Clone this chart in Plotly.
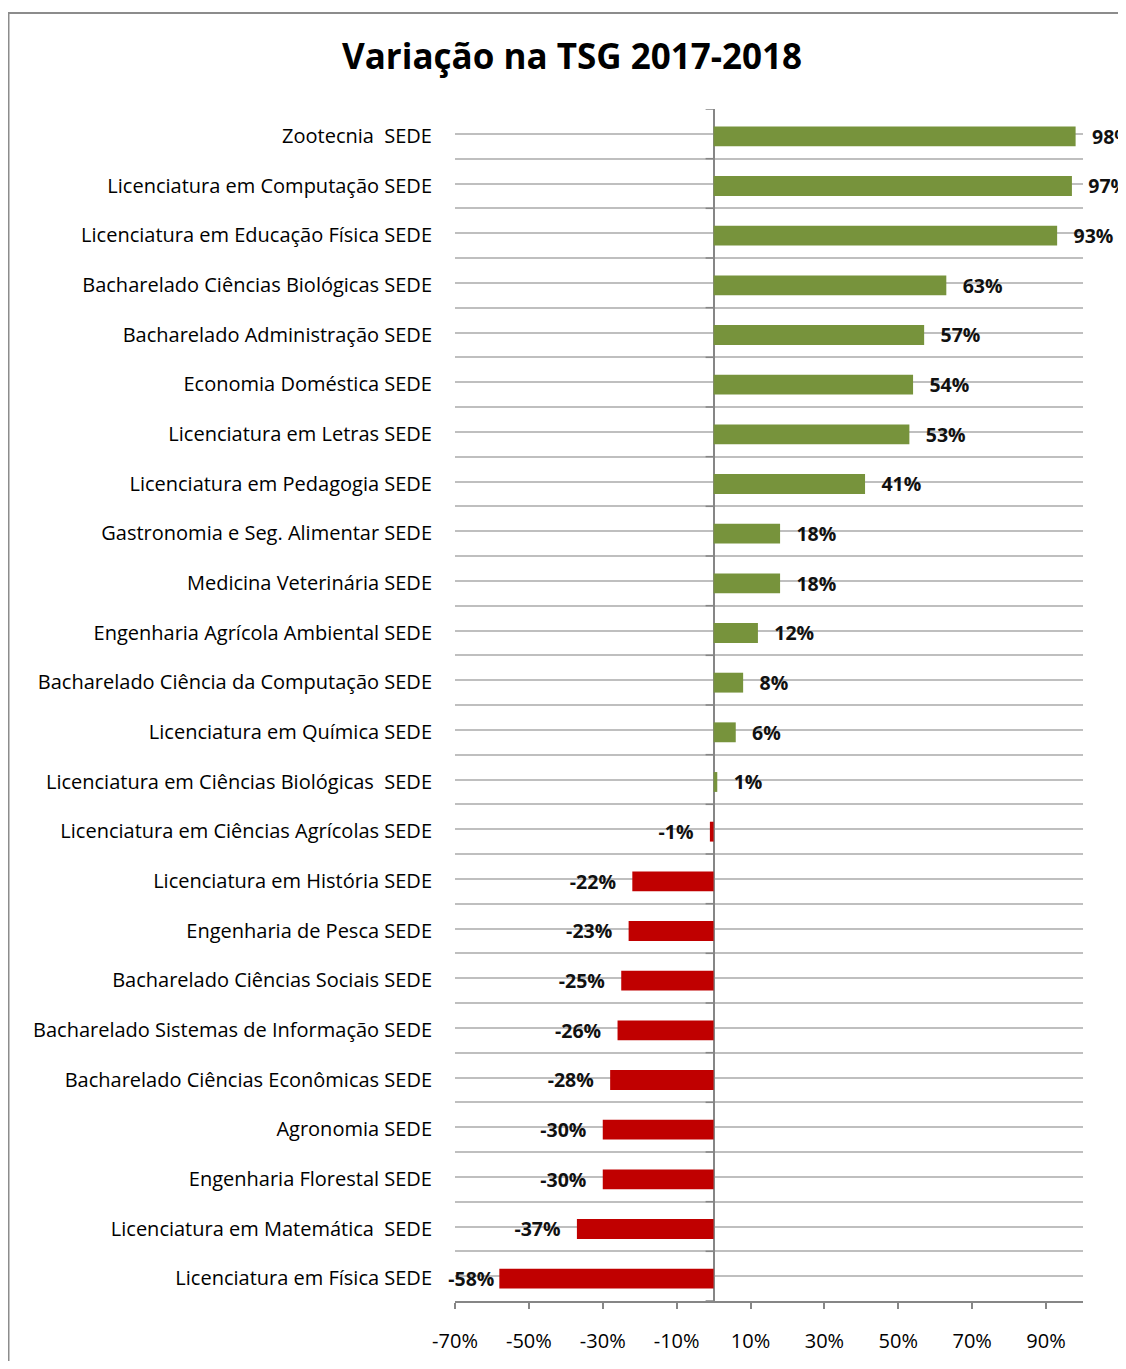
import plotly.graph_objects as go

categories = [
    "Zootecnia  SEDE",
    "Licenciatura em Computação SEDE",
    "Licenciatura em Educação Física SEDE",
    "Bacharelado Ciências Biológicas SEDE",
    "Bacharelado Administração SEDE",
    "Economia Doméstica SEDE",
    "Licenciatura em Letras SEDE",
    "Licenciatura em Pedagogia SEDE",
    "Gastronomia e Seg. Alimentar SEDE",
    "Medicina Veterinária SEDE",
    "Engenharia Agrícola Ambiental SEDE",
    "Bacharelado Ciência da Computação SEDE",
    "Licenciatura em Química SEDE",
    "Licenciatura em Ciências Biológicas  SEDE",
    "Licenciatura em Ciências Agrícolas SEDE",
    "Licenciatura em História SEDE",
    "Engenharia de Pesca SEDE",
    "Bacharelado Ciências Sociais SEDE",
    "Bacharelado Sistemas de Informação SEDE",
    "Bacharelado Ciências Econômicas SEDE",
    "Agronomia SEDE",
    "Engenharia Florestal SEDE",
    "Licenciatura em Matemática  SEDE",
    "Licenciatura em Física SEDE",
]
variation_pct = [98, 97, 93, 63, 57, 54, 53, 41, 18, 18, 12, 8, 6, 1,
                 -1, -22, -23, -25, -26, -28, -30, -30, -37, -58]
x_tick_values = [-70, -50, -30, -10, 10, 30, 50, 70, 90]
x_tick_labels = [f"{v}%" for v in x_tick_values]

GREEN = "#77933C"
RED = "#C00000"
GRID = "#BFBFBF"
AXIS = "#868686"
FONT = "Open Sans"

# page offset of the plotly div (default body margin)
OFF = 8
W, H = 1126 - OFF, 1369 - 2 * OFF
L, R, T, B = 455 - OFF, 1083 - OFF, 109 - OFF, 1301 - OFF


def px_x(p):
    # p: page pixel
    return (p - OFF - L) / (R - L)


def px_y(p):
    return (B - (p - OFF)) / (B - T)


idx = list(range(len(categories)))
colors = [GREEN if v >= 0 else RED for v in variation_pct]
NB = "\u00a0"
GAP = NB * 2 + "\u2009"
texts = []
for v in variation_pct:
    if v >= 0:
        texts.append(GAP + f"{v}%")
    else:
        # labels reaching the plot's left edge sit closer to their bar
        texts.append(f"{v}%" + ("\u200a" if v < -50 else GAP))

fig = go.Figure()
fig.add_trace(go.Bar(
    x=variation_pct,
    y=idx,
    orientation="h",
    marker=dict(color=colors, line=dict(width=0)),
    width=0.4,
    offset=-0.15,
    text=texts,
    textposition="outside",
    textfont=dict(family=FONT, size=19.5, color="#111111", weight="bold"),
    cliponaxis=False,
    constraintext="none",
    hoverinfo="skip",
))

shapes = []
# small tick marks on the zero axis at category boundaries
for b in range(len(categories) + 1):
    shapes.append(dict(
        type="line", xref="x", yref="y", xsizemode="pixel", xanchor=0,
        x0=-8, x1=0, y0=b - 0.5, y1=b - 0.5,
        line=dict(color=AXIS, width=1.5), layer="above",
    ))
# outer chart frame
shapes.append(dict(
    type="rect", xref="paper", yref="paper",
    x0=px_x(8.5), x1=px_x(1160), y0=px_y(1400), y1=px_y(13),
    line=dict(color="#8C8C8C", width=2), fillcolor="rgba(0,0,0,0)", layer="below",
))

fig.update_layout(
    width=W, height=H,
    margin=dict(l=L, r=W - R, t=T, b=H - B, autoexpand=False),
    paper_bgcolor="white",
    plot_bgcolor="white",
    showlegend=False,
    title=dict(
        text="<b>Variação na TSG 2017-2018</b>",
        x=(572 - OFF) / W, xref="container", xanchor="center",
        y=1 - (57 - OFF) / H, yref="container", yanchor="middle",
        font=dict(family=FONT, size=35, color="#000000"),
    ),
    shapes=shapes,
    font=dict(family=FONT, color="#000000"),
)

fig.update_xaxes(
    range=[-70, 100],
    tickvals=x_tick_values,
    ticktext=x_tick_labels,
    showgrid=False,
    zeroline=True, zerolinecolor=AXIS, zerolinewidth=1.5,
    showline=True, linecolor=AXIS, linewidth=1.5,
    ticks="outside", ticklen=6, tickcolor=AXIS, tickwidth=1.5,
    ticklabelstandoff=15,
    automargin=False,
    tickfont=dict(family=FONT, size=20, color="#000000"),
    fixedrange=True,
)
fig.update_yaxes(
    range=[len(categories) - 0.5, -0.5],
    tickvals=idx,
    ticktext=categories,
    showgrid=True, gridcolor=GRID, gridwidth=1.5,
    minor=dict(tickvals=[b - 0.5 for b in range(len(categories) + 1)],
               showgrid=True, gridcolor=GRID, gridwidth=1.5),
    zeroline=False,
    showline=False,
    ticks="",
    ticklabelstandoff=22,
    ticklabelshift=-2,
    automargin=False,
    tickfont=dict(family=FONT, size=20, color="#000000"),
    fixedrange=True,
)

fig.write_html("out.html")
